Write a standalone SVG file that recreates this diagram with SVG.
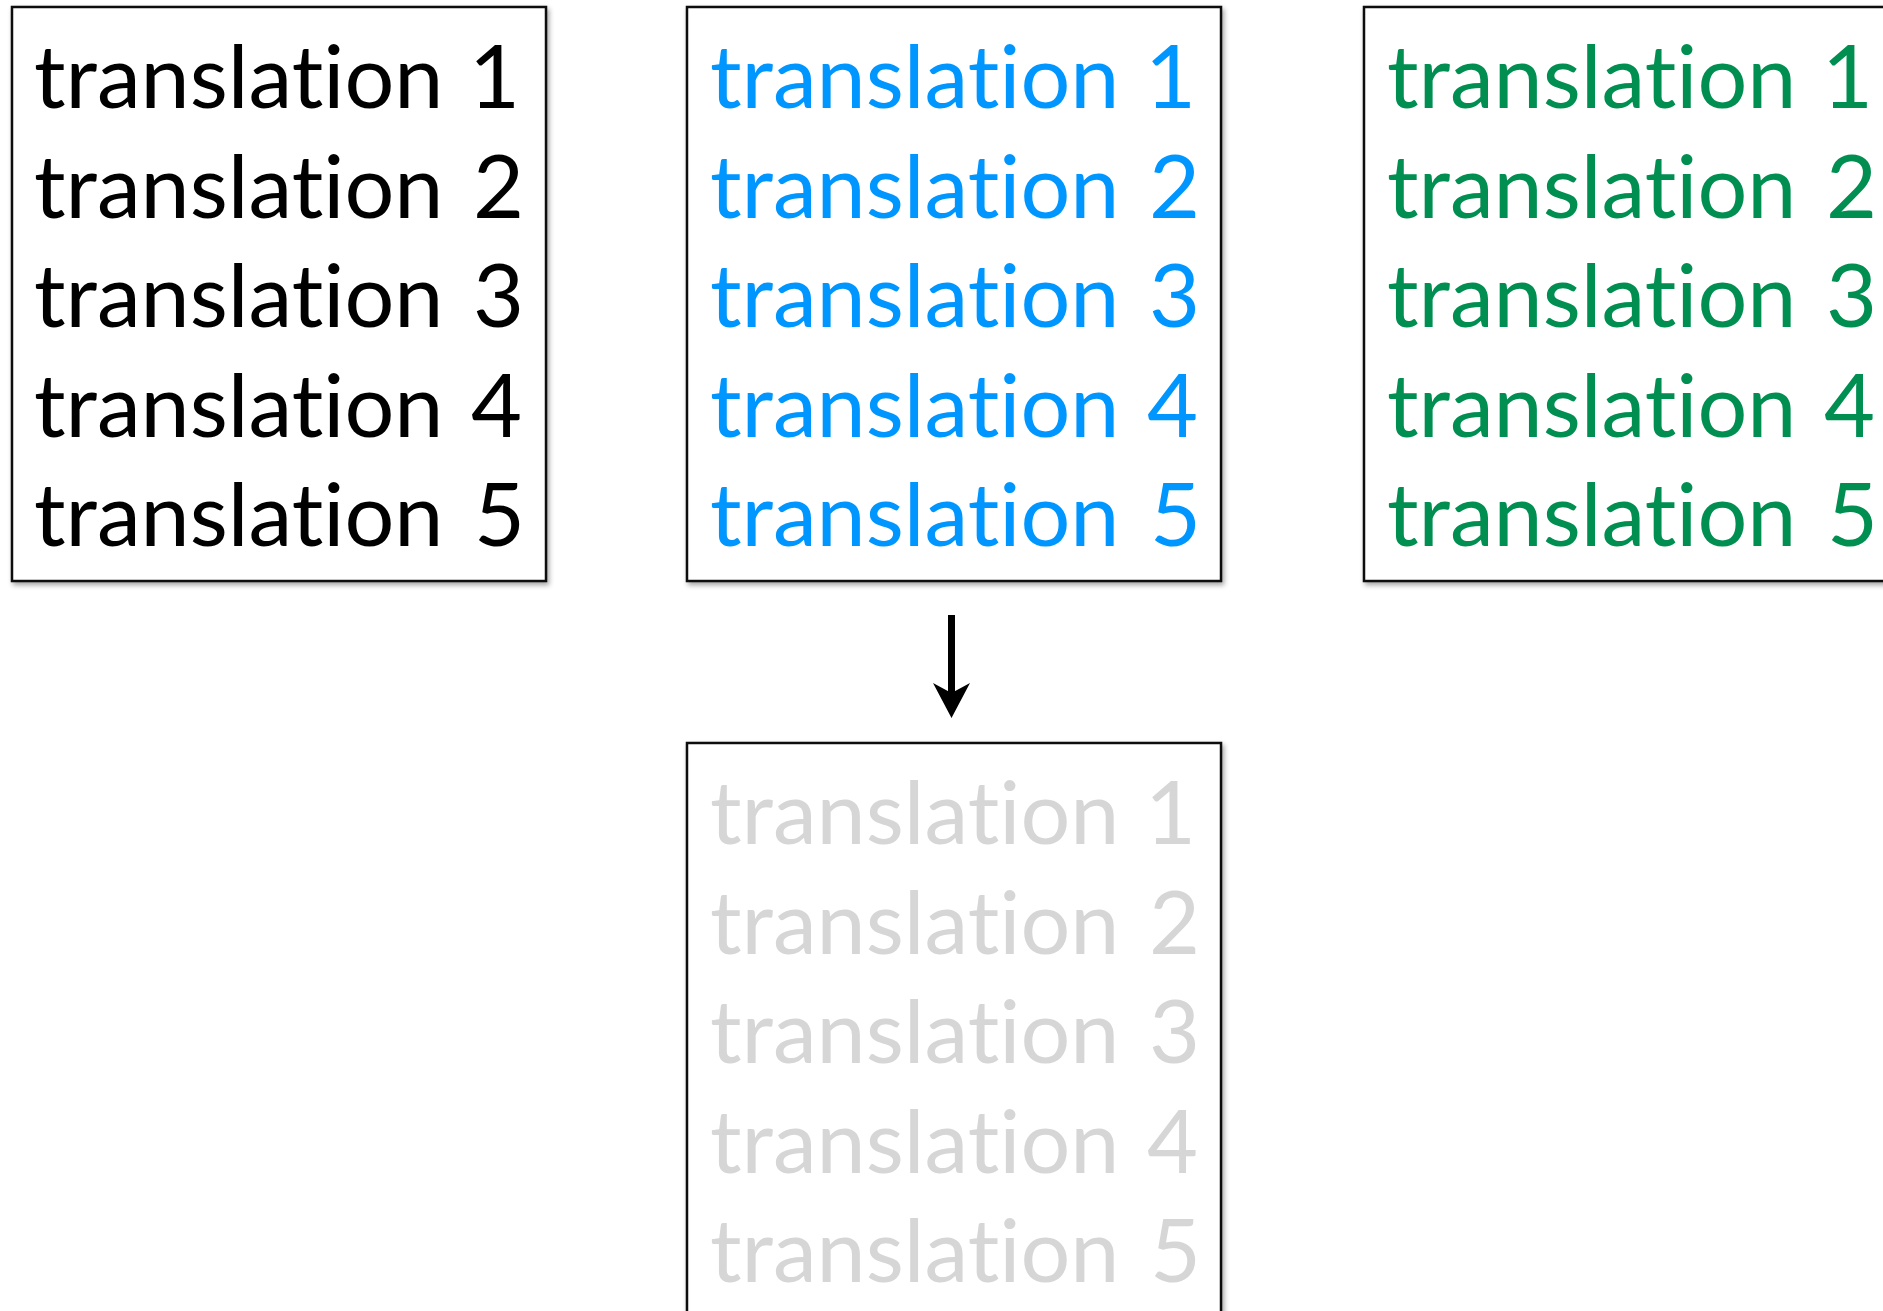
<svg xmlns="http://www.w3.org/2000/svg" width="1883" height="1311" viewBox="0 0 1883 1311">
<defs>
<filter id="sh" x="-5%" y="-5%" width="110%" height="110%">
<feDropShadow dx="2" dy="3" stdDeviation="2.5" flood-color="#000" flood-opacity="0.35"/>
</filter>
<marker id="ah" markerUnits="userSpaceOnUse" markerWidth="35" markerHeight="37" viewBox="0 0 35 37" refX="17" refY="18.5" orient="auto">
<path d="M0,0 L35,18.5 L0,37 L10,18.5 Z" fill="#000"/>
</marker>
</defs>
<style>
.box{fill:#fff;stroke:#111;stroke-width:2.5;filter:url(#sh)}
.t{font-family:Lato,"Open Sans","Liberation Sans",sans-serif;font-size:88px;font-variant-ligatures:none;font-feature-settings:"liga" 0,"clig" 0}
.k{fill:#000}
.b{fill:#0096FF}
.g{fill:#008F51}
.y{fill:#D6D6D6}
.conn{stroke:#000;stroke-width:7;fill:none}
</style>
<rect width="1883" height="1311" fill="#fff"/>
<g id="box-black">
<rect class="box" x="12" y="7" width="534" height="574"/>
<text class="t k" x="34" y="108">translation <tspan x="469">1</tspan></text>
<text class="t k" x="34" y="217.5">translation <tspan x="473">2</tspan></text>
<text class="t k" x="34" y="327">translation <tspan x="473">3</tspan></text>
<text class="t k" x="34" y="436.5">translation <tspan x="471">4</tspan></text>
<text class="t k" x="34" y="546">translation <tspan x="474">5</tspan></text>
</g>
<g id="box-blue">
<rect class="box" x="687" y="7" width="534" height="574"/>
<text class="t b" x="710" y="108">translation <tspan x="1145">1</tspan></text>
<text class="t b" x="710" y="217.5">translation <tspan x="1149">2</tspan></text>
<text class="t b" x="710" y="327">translation <tspan x="1149">3</tspan></text>
<text class="t b" x="710" y="436.5">translation <tspan x="1147">4</tspan></text>
<text class="t b" x="710" y="546">translation <tspan x="1150">5</tspan></text>
</g>
<g id="box-green">
<rect class="box" x="1364" y="7" width="534" height="574"/>
<text class="t g" x="1387" y="108">translation <tspan x="1822">1</tspan></text>
<text class="t g" x="1387" y="217.5">translation <tspan x="1826">2</tspan></text>
<text class="t g" x="1387" y="327">translation <tspan x="1826">3</tspan></text>
<text class="t g" x="1387" y="436.5">translation <tspan x="1824">4</tspan></text>
<text class="t g" x="1387" y="546">translation <tspan x="1827">5</tspan></text>
</g>
<g id="box-gray">
<rect class="box" x="687" y="743" width="534" height="590"/>
<text class="t y" x="710" y="844">translation <tspan x="1145">1</tspan></text>
<text class="t y" x="710" y="953.5">translation <tspan x="1149">2</tspan></text>
<text class="t y" x="710" y="1063">translation <tspan x="1149">3</tspan></text>
<text class="t y" x="710" y="1172.5">translation <tspan x="1147">4</tspan></text>
<text class="t y" x="710" y="1282">translation <tspan x="1150">5</tspan></text>
</g>
<g id="connectors">
<line class="conn" x1="951.5" y1="615" x2="951.5" y2="700" marker-end="url(#ah)"/>
</g>
</svg>
